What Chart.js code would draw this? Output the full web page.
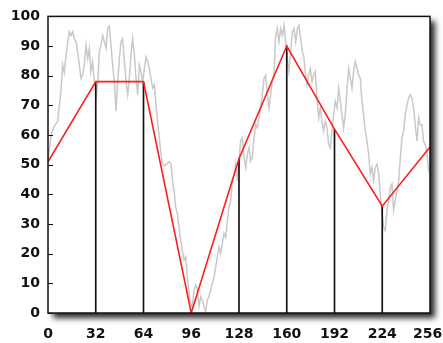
<!DOCTYPE html>
<html>
<head>
<meta charset="utf-8">
<script src="https://cdn.jsdelivr.net/npm/chart.js@4.4.1/dist/chart.umd.min.js"></script>
<style>
  html, body { margin: 0; padding: 0; background: #fff; }
  #wrap { width: 443px; height: 343px; }
</style>
</head>
<body>
<div id="wrap"><canvas id="c" width="443" height="343"></canvas></div>
<script>
// Sampled signal (grey trace)
const signalX = [
  0, 2.0, 4.2, 6.5, 7.6, 8.7, 9.8, 10.9, 12.1, 13.2,
  14.3, 15.4, 16.5, 17.6, 18.8, 19.9, 21.0, 22.1, 23.2, 24.3,
  25.5, 26.6, 27.7, 28.8, 29.9, 31.1, 32.2, 33.3, 34.4, 35.5,
  36.6, 37.8, 38.9, 40.0, 41.1, 42.2, 43.3, 44.5, 45.6, 46.7,
  47.8, 48.9, 50.0, 51.2, 52.3, 53.4, 54.5, 55.6, 56.7, 57.9,
  59.0, 60.1, 61.2, 62.3, 63.5, 64.6, 65.7, 66.8, 67.9, 69.0,
  70.2, 71.3, 72.4, 73.5, 74.6, 75.7, 76.9, 78.0, 79.1, 80.2,
  81.3, 82.4, 83.6,
  84.5, 85.6, 86.7, 87.8, 88.9, 90.0, 91.2, 92.3, 93.4, 94.5,
  95.6, 96.7, 97.9, 99.0, 100.1, 101.2, 102.3, 103.4, 104.6, 105.7,
  106.8, 107.9, 109.0, 110.1, 111.3, 112.4, 113.5, 114.6, 115.7, 116.8,
  118.0, 119.1, 120.2, 121.3, 122.4, 123.5, 124.7, 125.8, 126.9, 128.0,
  129.1, 130.2, 131.4, 132.5, 133.6, 134.7, 135.8, 136.9, 138.1, 139.2,
  140.3, 141.4, 142.5, 143.6, 144.8, 145.9, 147.0, 148.1, 149.2, 150.3,
  151.5, 152.6, 153.7, 154.8, 155.9, 157.1, 158.2, 159.3, 160.4, 161.5,
  162.6, 163.8, 164.9, 166.0, 167.1, 168.2, 169.3, 170.5,
  171.3, 172.4, 173.6, 174.7, 175.8, 176.9, 178.0, 179.1, 180.3, 181.4,
  182.5, 183.6, 184.7, 185.8, 187.0, 188.1, 189.2, 190.3, 191.4, 192.5,
  193.7, 194.8, 195.9, 197.0, 198.1, 199.2, 200.4, 201.5, 202.6, 203.7,
  204.8, 205.9, 207.1, 208.2, 209.3, 210.4, 211.5, 212.6, 213.8, 214.9,
  216.0, 217.1, 218.2, 219.3, 220.5, 221.6, 222.7, 223.8, 224.9, 226.0,
  227.2, 228.3, 229.4, 230.5, 231.6, 232.7, 233.9, 235.0, 236.1, 237.2,
  238.3, 239.4, 240.6, 241.7, 242.8, 243.9, 245.0, 246.1, 247.3, 248.4,
  249.5, 250.6, 251.7, 252.8, 254.0, 255.1, 256
];
const signalY = [
  51, 60, 63, 64.6, 70, 74.8, 83.6, 81, 86.9, 91.4,
  94.8, 93.6, 94.8, 92.5, 91.4, 88, 83.6, 79.1, 80.2, 83.6,
  90.3, 85.8, 89.2, 81.4, 84.7, 78, 73, 77, 88, 90.3,
  93.6, 91.4, 89.2, 96, 96.7, 90.3, 83.6, 78, 68, 78,
  85.8, 91.4, 92.5, 84.7, 78, 73.6, 79.1, 87, 92.5, 87,
  79, 73.6, 83.6, 81.4, 78, 82.5, 86.4, 84.7, 82.5, 79,
  75.8, 77, 70, 64.6, 59, 53.5, 50, 49.6, 50, 50.6,
  51, 50, 44,
  41.2, 35.7, 33.4, 29, 24.5, 21.2, 17.8, 18.9, 12.2, 6.6,
  3.3, 2.1, 7.8, 9.4, 7.8, 2.2, 5.5, 4.4, 2.1, 0.5,
  4.4, 5.5, 7.8, 10, 12.2, 15.6, 18.9, 22.3, 20, 23.4,
  26.8, 25.6, 31.2, 35.7, 37.9, 43.5, 46.8, 50.2, 44.6, 51.3,
  58, 59.1, 52.4, 49, 53.5, 55.7, 51.3, 52.4, 59.1, 63.5,
  62.4, 65.8, 69.1, 73.6, 79.1, 80.2, 73.6, 69.1, 73.6, 78,
  81.4, 93.6, 95.9, 91.4, 95.9, 93.6, 97, 91.4, 85.8, 81.4,
  88, 94.8, 95.9, 91.4, 95.9, 97, 92.5, 88,
  86.9, 81.4, 77, 80.2, 82.5, 78, 80.2, 81.4, 72.5, 65.8,
  69.1, 64.6, 61.3, 64.6, 62.4, 56.8, 55.7, 61.3, 66.9, 71.4,
  69.1, 75.8, 71.4, 66.9, 62.4, 66.9, 75.8, 82.5, 79.1, 75.8,
  81.4, 84.7, 82.5, 80.2, 79.1, 71.4, 66.9, 61.3, 57.9, 53.5,
  46.8, 49, 44.6, 49, 50.2, 46.8, 40.1, 33.4, 29, 27.9,
  34.6, 37.9, 42.3, 43.5, 34.6, 37.9, 41.2, 44.6, 52.2, 59.1,
  61.3, 66.9, 70.2, 72.5, 73.6, 72.5, 69.1, 63.5, 57.9, 65.8,
  63.5, 63.5, 57.9, 56.8, 53.5, 47.9, 47
];

// Knots of the piecewise-linear approximation (red) and their sample stems
const knotX = [0, 32, 64, 96, 128, 160, 192, 224, 256];
const knotY = [51, 78, 78, 0, 52, 90, 62, 36, 56];

// Axis ranges and tick steps
const xRange = [0, 256];
const xStep = 32;
const yRange = [0, 100];
const yStep = 10;

const tickFont = { family: 'DejaVu Sans', weight: 'bold', size: 14 };

const signalData = signalX.map((x, i) => ({ x, y: signalY[i] }));
const knotData = knotX.map((x, i) => ({ x, y: knotY[i] }));
// stems only for the interior knots
const stemData = knotData.slice(1, -1);

const framePlugin = {
  id: 'frame',
  beforeDraw(chart) {
    const c = chart.ctx;
    c.save();
    c.fillStyle = '#fff';
    c.fillRect(0, 0, chart.width, chart.height);
    c.restore();
  },
  beforeDatasetsDraw(chart) {
    const { ctx: c, chartArea: a } = chart;
    c.save();
    c.shadowColor = 'rgba(0,0,0,0.85)';
    c.shadowBlur = 6;
    c.shadowOffsetX = 5;
    c.shadowOffsetY = 5;
    c.fillStyle = '#fff';
    c.fillRect(a.left, a.top, a.right - a.left, a.bottom - a.top);
    c.restore();
  },
  afterDatasetsDraw(chart) {
    const { ctx: c, chartArea: a } = chart;
    const ys = chart.scales.y;
    c.save();
    c.strokeStyle = '#111';
    c.lineWidth = 1.5;
    c.strokeRect(a.left, a.top, a.right - a.left, a.bottom - a.top);
    // inward tick marks on the value axis
    c.lineWidth = 1;
    c.beginPath();
    ys.ticks.forEach((t, i) => {
      const py = Math.round(ys.getPixelForTick(i)) + 0.5;
      c.moveTo(a.left, py);
      c.lineTo(a.left + 5, py);
    });
    c.stroke();
    c.restore();
  }
};

new Chart(document.getElementById('c'), {
  data: {
    datasets: [
      {
        type: 'line',
        label: 'signal',
        data: signalData,
        borderColor: '#c9c9c9',
        borderWidth: 1.5,
        pointRadius: 0,
        tension: 0,
        order: 3
      },
      {
        type: 'bar',
        label: 'stems',
        data: stemData,
        backgroundColor: '#111',
        borderWidth: 0,
        barThickness: 1,
        order: 2
      },
      {
        type: 'line',
        label: 'approximation',
        data: knotData,
        borderColor: '#ff1e1e',
        borderWidth: 1.6,
        pointRadius: 0,
        tension: 0,
        order: 1
      }
    ]
  },
  options: {
    responsive: false,
    animation: false,
    devicePixelRatio: 1,
    layout: { padding: { top: 15, right: 13, left: 0, bottom: 0 } },
    plugins: { legend: { display: false }, tooltip: { enabled: false } },
    scales: {
      x: {
        type: 'linear',
        min: xRange[0],
        max: xRange[1],
        offset: false,
        grid: { display: false, drawTicks: false },
        border: { display: false },
        ticks: {
          stepSize: xStep, color: '#111', font: tickFont, padding: 13,
          maxRotation: 0, autoSkip: false,
          // keep the last label inside the canvas edge
          callback: (v) => (v === xRange[1] ? v + ' ' : String(v))
        },
        afterFit(s) { s.height = 30; s.paddingLeft = 0; s.paddingRight = 0; }
      },
      y: {
        type: 'linear',
        min: yRange[0],
        max: yRange[1],
        grid: { display: false, drawTicks: false },
        border: { display: false },
        ticks: { stepSize: yStep, color: '#111', font: tickFont, padding: 8 },
        afterFit(s) { s.width = 48; }
      }
    }
  },
  plugins: [framePlugin]
});
</script>
</body>
</html>
